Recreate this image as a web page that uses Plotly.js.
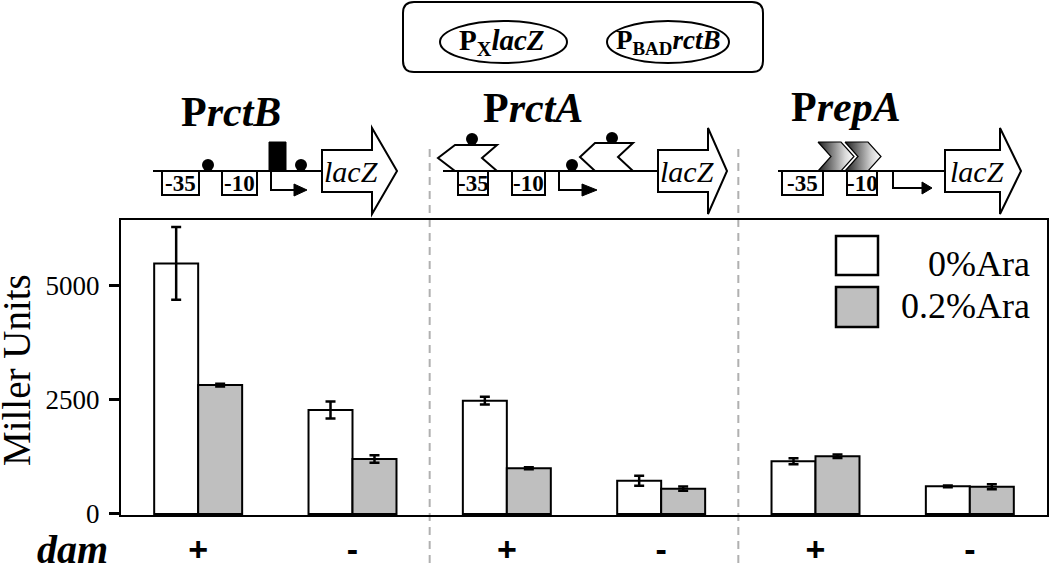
<!DOCTYPE html>
<html><head><meta charset="utf-8">
<script src="https://cdn.plot.ly/plotly-3.0.1.min.js"></script>
<style>html,body{margin:0;padding:0;background:#fff}#chart{width:1050px;height:563px}</style>
</head><body><div id="chart"></div>
<script>
// ---- data ----
const categories = ['PrctB dam+', 'PrctB dam-', 'PrctA dam+', 'PrctA dam-', 'PrepA dam+', 'PrepA dam-'];
const damLabels = ['+', '-', '+', '-', '+', '-'];
const seriesNames = ['0%Ara', '0.2%Ara'];
const ara0 = [5480, 2275, 2478, 729, 1152, 605];
const ara0Err = [795, 185, 85, 110, 65, 20];
const ara02 = [2821, 1203, 1000, 554, 1262, 597];
const ara02Err = [30, 80, 20, 45, 40, 55];
const yTicks = [0, 2500, 5000];
const promoterTitles = ['<b>P<i>rctB</i></b>', '<b>P<i>rctA</i></b>', '<b>P<i>repA</i></b>'];
const constructLabels = ['<b>P<sub>X</sub><i>lacZ</i></b>', '<b>P<sub>BAD</sub><i>rctB</i></b>'];

// ---- layout helpers (pixel space on hidden overlay axes) ----
const W = 1050, H = 563;
const SERIF = 'Liberation Serif, Times New Roman, serif';
const shapes = [];
const annotations = [];
const extraTraces = [];
const LW = 2;
function P(pts) { return 'M' + pts.map(p => p[0] + ',' + p[1]).join(' L') + ' Z'; }
function pathShape(d, fill, lw) {
  shapes.push({type: 'path', xref: 'x2', yref: 'y2', path: d, fillcolor: fill || 'rgba(0,0,0,0)',
    line: {color: 'black', width: lw === undefined ? LW : lw}});
}
function lineShape(x0, y0, x1, y1, lw) {
  shapes.push({type: 'line', xref: 'x2', yref: 'y2', x0, y0, x1, y1, line: {color: 'black', width: lw || LW}});
}
function rectShape(x0, y0, x1, y1, fill, lw) {
  shapes.push({type: 'rect', xref: 'x2', yref: 'y2', x0, y0, x1, y1, fillcolor: fill || 'white',
    line: {color: 'black', width: lw === undefined ? LW : lw}});
}
function dot(cx, cy, r) {
  shapes.push({type: 'circle', xref: 'x2', yref: 'y2', x0: cx - r, x1: cx + r, y0: cy - r, y1: cy + r,
    fillcolor: 'black', line: {color: 'black', width: 0}});
}
function ellipse(x0, y0, x1, y1) {
  shapes.push({type: 'circle', xref: 'x2', yref: 'y2', x0, x1, y0, y1, fillcolor: 'white',
    line: {color: 'black', width: LW}});
}
function text(t, x, y, size, opts) {
  annotations.push(Object.assign({xref: 'x2', yref: 'y2', x, y, text: t, showarrow: false,
    font: {family: SERIF, size, color: 'black'}, xanchor: 'center', yanchor: 'middle'}, opts || {}));
}
function roundRect(x0, y0, x1, y1, r) {
  return `M${x0 + r},${y0} L${x1 - r},${y0} Q${x1},${y0} ${x1},${y0 + r} L${x1},${y1 - r} Q${x1},${y1} ${x1 - r},${y1} ` +
    `L${x0 + r},${y1} Q${x0},${y1} ${x0},${y1 - r} L${x0},${y0 + r} Q${x0},${y0} ${x0 + r},${y0} Z`;
}
function box(x0, x1, label) {
  rectShape(x0, 171, x1, 195, 'white', 2);
  text('<b>' + label + '</b>', (x0 + x1) / 2, 183.5, 23);
}
function tss(x, yb, xe, xt) {
  pathShape(`M${x},171 L${x},${yb} L${xe},${yb}`, null, 2);
  pathShape(P([[xe, yb - 6], [xt, yb], [xe, yb + 6]]), 'black', 1);
}
function bigArrow(x0, xb, xt, yc) {
  pathShape(P([[x0, yc - 21], [xb, yc - 21], [xb, yc - 43], [xt, yc], [xb, yc + 43], [xb, yc + 21], [x0, yc + 21]]), 'white', 2);
  text('<i>lacZ</i>', (x0 + xb) / 2 + 4, yc, 30);
}
function leftChevron(xt, xl, xr, xn, top, bot) {
  const mid = (top + bot) / 2;
  pathShape(P([[xl, top], [xr, top], [xn, mid], [xr, bot], [xl, bot], [xt, mid]]), 'white', 2);
}
function gradChevron(L, top, bot) {
  const mid = (top + bot) / 2;
  const pts = [[L, top], [L + 23, top], [L + 36, mid], [L + 23, bot], [L, bot], [L + 13, mid], [L, top]];
  extraTraces.push({type: 'scatter', xaxis: 'x2', yaxis: 'y2', mode: 'lines',
    x: pts.map(p => p[0]), y: pts.map(p => p[1]), fill: 'toself',
    fillgradient: {type: 'horizontal', colorscale: [[0, '#1e1e1e'], [0.75, '#d8d8d8'], [1, '#ffffff']]},
    line: {color: 'black', width: 1.2}, hoverinfo: 'skip', showlegend: false});
}

// ---- top construct box ----
pathShape(roundRect(403, 2, 763, 72, 11), 'white', 2);
ellipse(440, 21, 567, 63);
ellipse(607, 21, 729, 63);
text(constructLabels[0], 502, 42, 29);
text(constructLabels[1], 668, 42, 27);

// ---- PrctB diagram ----
text(promoterTitles[0], 231, 112, 42);
lineShape(153, 171, 322, 171);
box(162, 199, '-35');
box(222, 257, '-10');
dot(208, 165, 6);
rectShape(269, 142, 286, 171, 'black', 1);
tss(271, 190, 294, 307);
dot(301, 165, 6);
bigArrow(322, 372, 397, 171);

// ---- PrctA diagram ----
text(promoterTitles[1], 533, 108, 42);
lineShape(443, 171, 658, 171);
leftChevron(438, 455, 497, 482, 145, 171);
dot(472, 139, 6);
box(458, 488, '-35');
box(512, 545, '-10');
dot(572, 165, 6);
tss(559, 190, 582, 597);
leftChevron(580, 595, 633, 618, 143, 171);
dot(612, 138, 6);
bigArrow(658, 708, 727, 171);

// ---- PrepA diagram ----
text(promoterTitles[2], 846, 107, 42);
lineShape(778, 171, 945, 171);
box(782, 823, '-35');
box(847, 877, '-10');
tss(893, 188, 922, 932);
bigArrow(945, 1000, 1021, 171);
gradChevron(818, 142, 171);
gradChevron(845, 142, 171);

// ---- legend (drawn) ----
rectShape(836, 236, 878, 275, 'white', 2.5);
rectShape(836, 287, 878, 327, '#bfbfbf', 2.5);
text(seriesNames[0], 1032, 264, 36, {xanchor: 'right'});
text(seriesNames[1], 1032, 306, 36, {xanchor: 'right'});

// ---- axis titles ----
text('Miller Units', 16, 370, 39, {textangle: -90});
text('<b><i>dam</i></b>', 72, 549, 40);

// ---- dashed separators ----
[1.5, 3.5].forEach(xv => shapes.push({type: 'line', xref: 'x', yref: 'paper', x0: xv, x1: xv,
  y0: 0, y1: 1 - 143 / H, line: {color: '#b0b0b0', width: 2, dash: '8px,6px'}, layer: 'below'}));

const traces = [
  {type: 'bar', x: categories, y: ara0, name: seriesNames[0], xaxis: 'x', yaxis: 'y',
   marker: {color: 'white', line: {color: 'black', width: 2}},
   error_y: {type: 'data', array: ara0Err, visible: true, color: 'black', thickness: 2.5, width: 5},
   showlegend: false},
  {type: 'bar', x: categories, y: ara02, name: seriesNames[1], xaxis: 'x', yaxis: 'y',
   marker: {color: '#bfbfbf', line: {color: 'black', width: 2}},
   error_y: {type: 'data', array: ara02Err, visible: true, color: 'black', thickness: 2.5, width: 5},
   showlegend: false}
].concat(extraTraces);

const layout = {
  width: W, height: H,
  margin: {l: 0, r: 0, t: 0, b: 0},
  paper_bgcolor: 'white', plot_bgcolor: 'rgba(0,0,0,0)',
  font: {family: SERIF, color: 'black'},
  barmode: 'group', bargap: 0.43, bargroupgap: 0,
  showlegend: false,
  xaxis: {domain: [121 / W, 1047 / W], type: 'category', range: [-0.5, 5.5],
    tickmode: 'array', tickvals: categories, ticktext: damLabels, ticks: '',
    tickfont: {family: 'Liberation Sans, Arial, sans-serif', size: 34, weight: 'bold', color: 'black'},
    ticklabelstandoff: 3,
    showline: true, mirror: true, linecolor: 'black', linewidth: 2, showgrid: false, zeroline: false,
    anchor: 'y', fixedrange: true},
  yaxis: {domain: [48 / H, 343 / H], range: [-22, 6430], tickmode: 'array', tickvals: yTicks,
    ticks: 'outside', ticklen: 10, tickwidth: 3, tickcolor: 'black',
    tickfont: {family: SERIF, size: 27, color: 'black'}, ticklabelstandoff: 4,
    showline: true, mirror: true, linecolor: 'black', linewidth: 2, showgrid: false, zeroline: false,
    anchor: 'x', fixedrange: true},
  xaxis2: {domain: [0, 1], range: [0, W], visible: false, anchor: 'y2', fixedrange: true},
  yaxis2: {domain: [0, 1], range: [H, 0], visible: false, anchor: 'x2', fixedrange: true},
  shapes, annotations
};
Plotly.newPlot('chart', traces, layout, {staticPlot: true, displayModeBar: false});
</script></body></html>
